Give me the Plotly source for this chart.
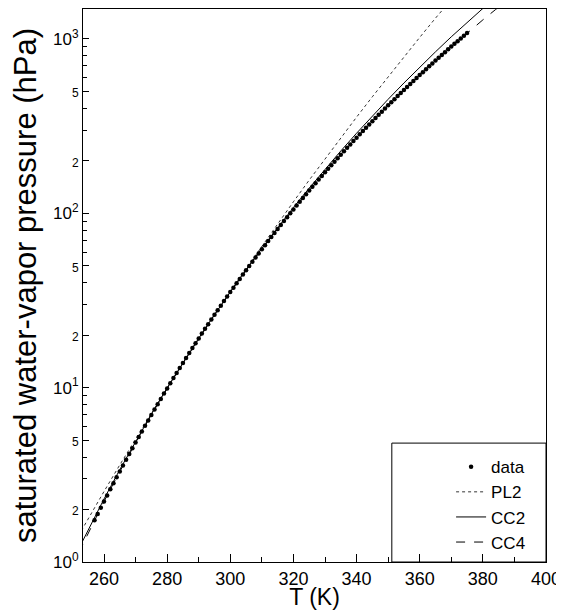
import plotly.graph_objects as go

# ---- data: saturated water-vapour pressure (hPa) vs T (K) ----
data_T = list(range(257, 376))
data_p = [1.736, 1.887, 2.048, 2.223, 2.41, 2.611, 2.827, 3.058, 3.307, 3.573,
          3.859, 4.164, 4.491, 4.84, 5.213, 5.612, 6.037, 6.491, 6.974, 7.49,
          8.038, 8.622, 9.244, 9.904, 10.61, 11.35, 12.14, 12.98, 13.87, 14.81,
          15.81, 16.87, 17.99, 19.17, 20.42, 21.75, 23.14, 24.62, 26.17, 27.81,
          29.55, 31.37, 33.29, 35.32, 37.44, 39.69, 42.04, 44.52, 47.12,
          49.86, 52.73, 55.74, 58.9, 62.22, 65.69, 69.34, 73.15, 77.15, 81.33,
          85.7, 90.28, 95.07, 100.1, 105.3, 110.8, 116.5, 122.4, 128.6, 135.1,
          141.9, 148.9, 156.3, 163.9, 171.9, 180.2, 188.8, 197.8, 207.1, 216.9,
          227, 237.5, 248.4, 259.7, 271.5,
          283.7, 296.4, 309.5, 323.2, 337.3, 352, 367.2, 383, 399.3, 416.2,
          433.7, 451.9, 470.6, 490, 510.1, 530.8, 552.3, 574.5, 597.4, 621.1,
          645.5, 670.8, 696.9, 723.8, 751.6, 780.2, 809.8, 840.3, 871.8, 904.2,
          937.6, 972, 1007, 1044, 1082]

# ---- fitted curves ----
cc4_T = list(range(252, 392, 4))
cc4_p = [1.134, 1.597, 2.223, 3.058, 4.164, 5.612, 7.49, 9.904, 12.98, 16.87,
         21.75, 27.81, 35.32, 44.52, 55.74, 69.34, 85.7, 105.3, 128.6, 156.3,
         188.8, 227, 271.5, 323.2, 383, 451.9, 530.8, 621.1, 723.8, 840.3,
         972, 1120, 1287, 1474, 1682]

fit_T = list(range(250, 395, 5))
cc2_p = [1.011, 1.537, 2.298, 3.386, 4.917, 7.043, 9.961, 13.92, 19.22, 26.26,
         35.5, 47.53, 63.03, 82.84, 108, 139.5, 179, 227.8, 288, 361.6,
         451, 559.1, 689, 844.2, 1029, 1247, 1504, 1805, 2156]
pl2_p = [1.232, 1.775, 2.538, 3.606, 5.089, 7.136, 9.947, 13.78, 18.99, 26.03,
         35.47, 48.11, 64.92, 87.18, 116.5, 155.1, 205.5, 271.1, 356.2, 466.2,
         607.8, 789.4, 1021, 1317, 1693, 2168, 2767, 3521, 4466]

# ---- axis ticks ----
x_major = [260, 280, 300, 320, 340, 360, 380, 400]
x_minor = [270, 290, 310, 330, 350, 370, 390]
y_major = [1, 2, 5, 10, 20, 50, 100, 200, 500, 1000]
y_labels = ["10<sup>0</sup>", "2", "5", "10<sup>1</sup>", "2", "5",
            "10<sup>2</sup>", "2", "5", "10<sup>3</sup>"]
y_minor = [3, 4, 6, 7, 8, 9, 30, 40, 60, 70, 80, 90, 300, 400, 600, 700, 800, 900]

FONT = "Liberation Sans, Arial, sans-serif"


def fmt_label(t):
    if "sup" in t:
        return t
    return '<span style="font-size:12px">' + t + "</span>"


fig = go.Figure()
fig.add_trace(go.Scatter(x=data_T, y=data_p, mode="markers", name="data",
                         marker=dict(color="black", size=4.5)))
fig.add_trace(go.Scatter(x=fit_T, y=pl2_p, mode="lines", name="PL2",
                         line=dict(color="black", width=0.8, dash="dot")))
fig.add_trace(go.Scatter(x=fit_T, y=cc2_p, mode="lines", name="CC2",
                         line=dict(color="black", width=1)))
fig.add_trace(go.Scatter(x=cc4_T, y=cc4_p, mode="lines", name="CC4",
                         line=dict(color="black", width=1, dash="dash")))

fig.update_layout(
    width=556, height=602,
    margin=dict(l=75, r=18, t=1, b=48),
    paper_bgcolor="white", plot_bgcolor="white",
    font=dict(family=FONT, color="black", size=18),
    showlegend=True,
    legend=dict(x=0.795, y=0.204, xanchor="left", yanchor="top",
                bgcolor="rgba(0,0,0,0)", borderwidth=0,
                font=dict(size=17, family=FONT), tracegroupgap=0),
    xaxis=dict(range=[253.35, 400], showline=True, linecolor="black", linewidth=1,
               mirror=True, showgrid=False, zeroline=False, automargin=False,
               tickmode="array", tickvals=x_major,
               ticks="inside", ticklen=8, tickcolor="black",
               minor=dict(tickvals=x_minor, ticks="inside", ticklen=5, tickcolor="black"),
               tickfont=dict(size=18),
               title=dict(text="T (K)", font=dict(size=23), standoff=2)),
    yaxis=dict(type="log", range=[0, 3.172], showline=True, linecolor="black", linewidth=1,
               mirror=True, showgrid=False, zeroline=False, automargin=False,
               tickmode="array", tickvals=y_major,
               ticktext=[fmt_label(t) for t in y_labels],
               ticks="inside", ticklen=6, tickcolor="black",
               minor=dict(tickvals=y_minor, ticks="inside", ticklen=4, tickcolor="black"),
               tickfont=dict(size=17),
               title=dict(text="saturated water-vapor pressure (hPa)",
                          font=dict(size=31), standoff=16)),
    shapes=[dict(type="rect", xref="paper", yref="paper",
                 x0=0.667, x1=1.0, y0=0.0, y1=0.215,
                 line=dict(color="black", width=1), fillcolor="rgba(0,0,0,0)")],
)

fig.write_html("out.html")
